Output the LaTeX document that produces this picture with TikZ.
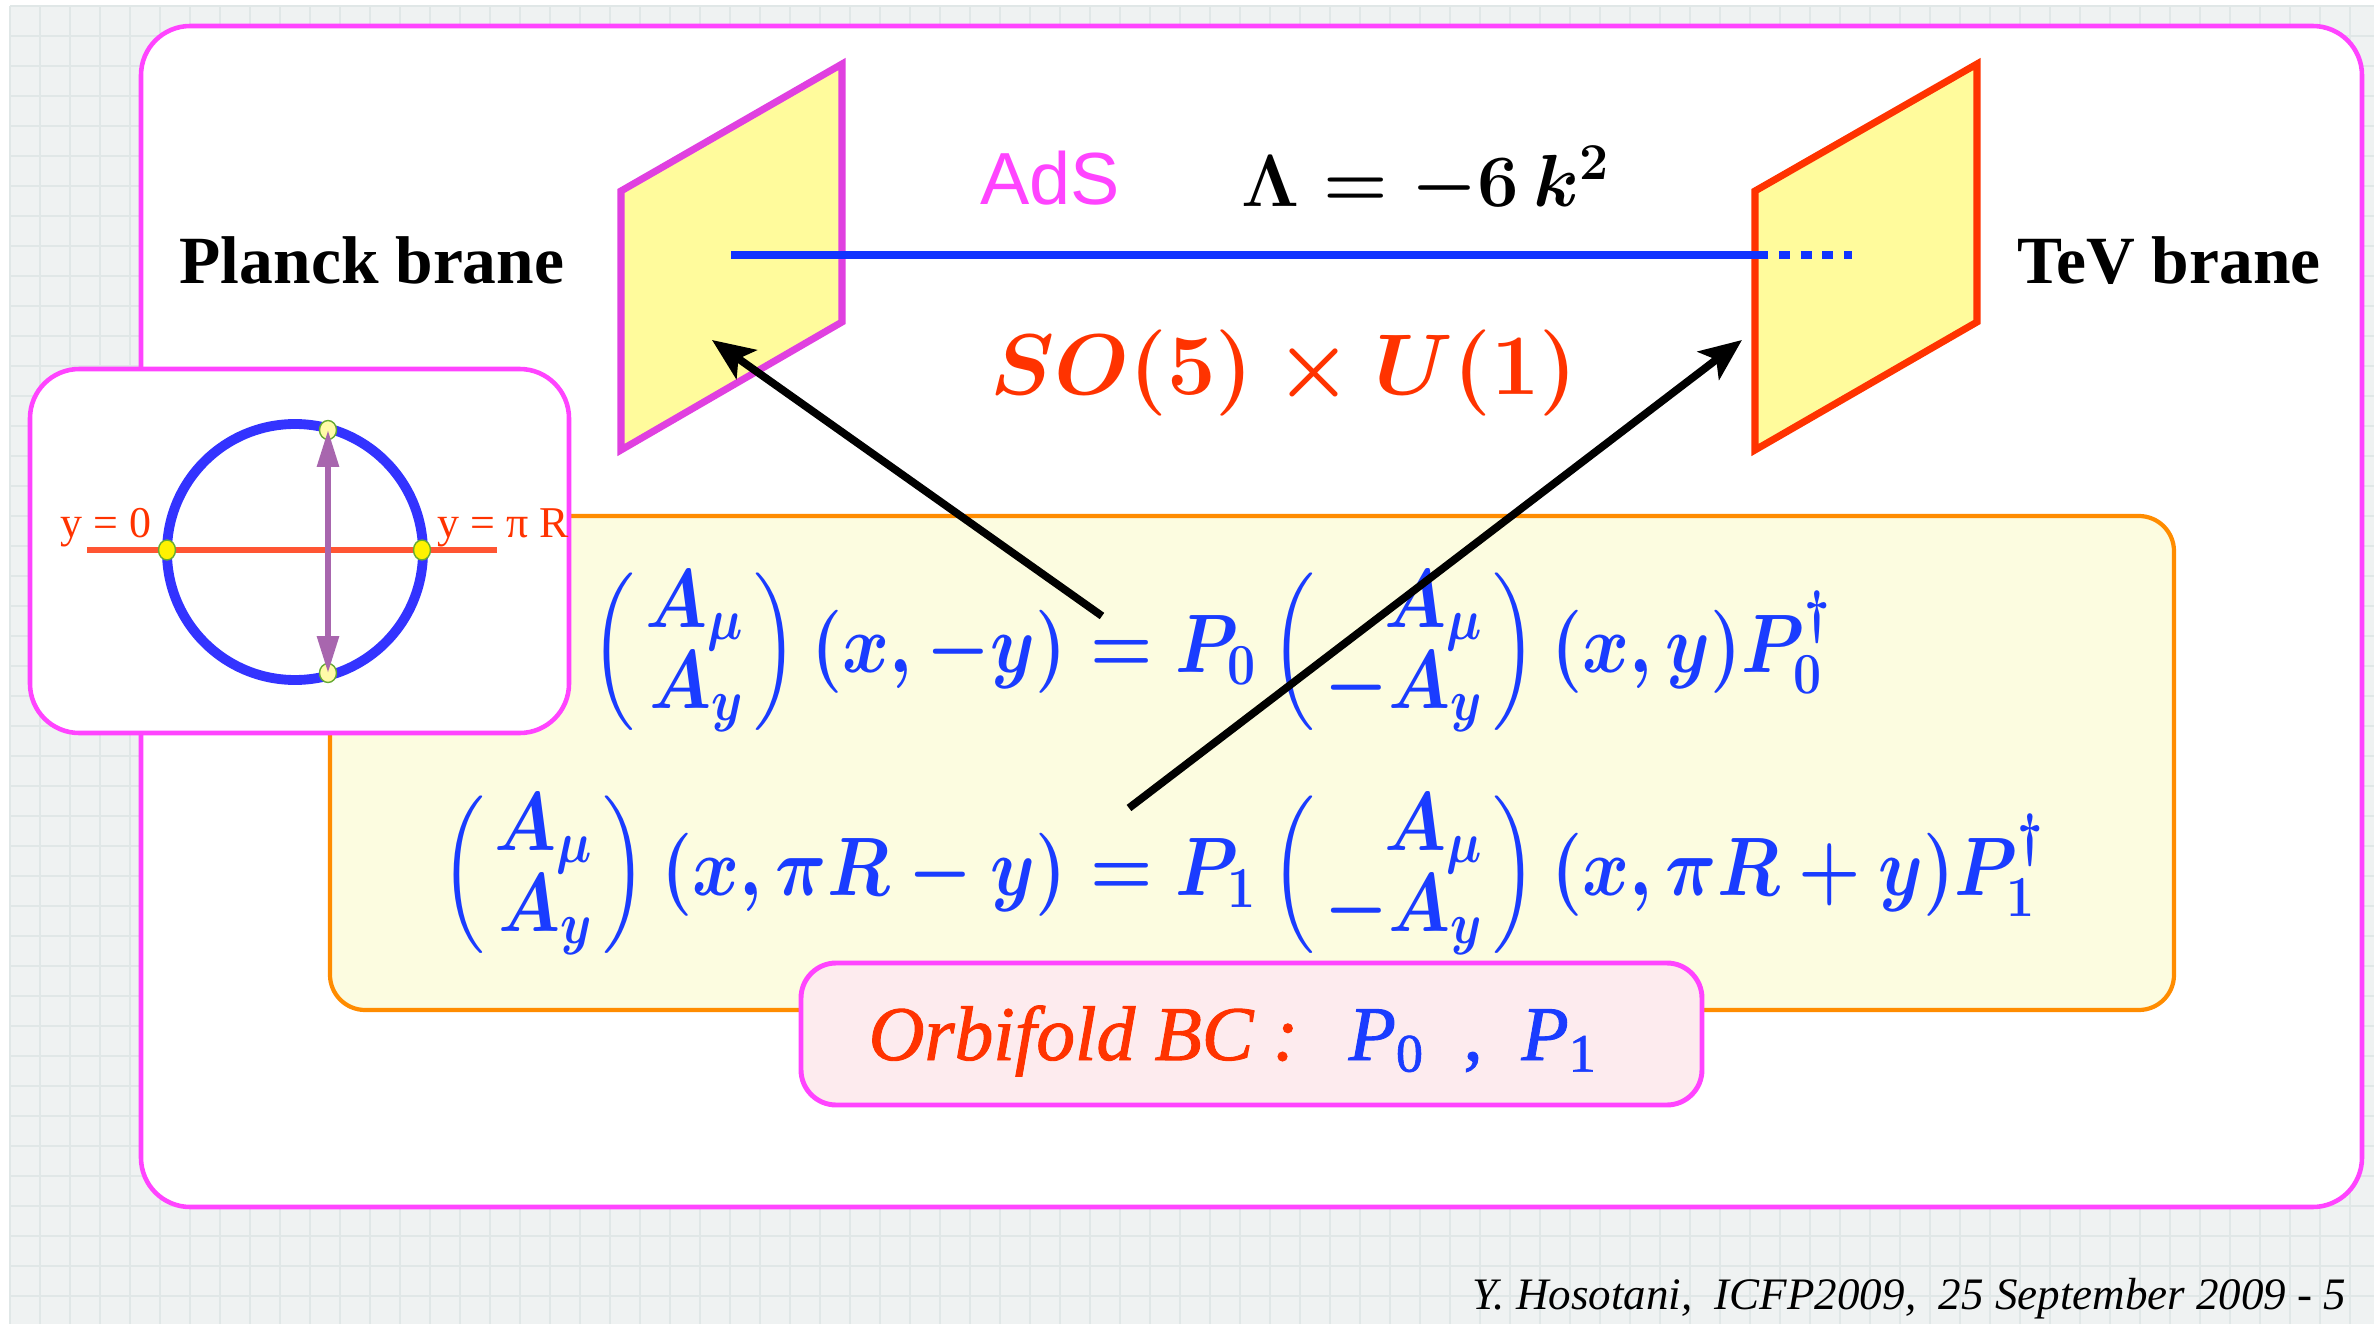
\RequirePackage{fix-cm}
\documentclass[tikz,border=0pt]{standalone}
\usepackage{amsmath}
\usepackage{graphicx}
\usepackage[no-math]{fontspec}
\setmainfont{Liberation Serif}
\newfontfamily\sansf{Liberation Sans}
\newfontfamily\obcfont[FakeBold=1.2]{Liberation Serif}
\usetikzlibrary{arrows.meta}
\definecolor{bggrey}{HTML}{EFF2F2}
\definecolor{gridc}{HTML}{E0E7E7}
\definecolor{mag}{HTML}{FF44FF}
\definecolor{branemag}{HTML}{E040E0}
\definecolor{branefill}{HTML}{FFFB9C}
\definecolor{tevred}{HTML}{FF3300}
\definecolor{lineblue}{HTML}{1133FF}
\definecolor{eqblue}{HTML}{1A3CFF}
\definecolor{orng}{HTML}{FF8C00}
\definecolor{eqfill}{HTML}{FCFCE0}
\definecolor{pinkfill}{HTML}{FDEBEE}
\definecolor{redtxt}{HTML}{FF3300}
\definecolor{insetred}{HTML}{FF5533}
\definecolor{circblue}{HTML}{3333FF}
\definecolor{purp}{HTML}{A866AE}
\definecolor{dotgreen}{HTML}{66AA33}
\definecolor{paleyellow}{HTML}{FFFBA8}
\newcommand{\myvec}[2]{\left(\renewcommand{\arraystretch}{0.82}\begin{array}{@{\mkern2mu}r@{\mkern2mu}}#1\\ #2\end{array}\right)}
\newcommand{\eqsq}[1]{\scalebox{0.86}[1]{$#1$}}
\tikzset{
  gridl/.style={draw=gridc, line width=0.3pt},
  boxmag/.style={draw=mag, line width=1.3pt, fill=white, rounded corners=14pt},
  branebox/.style={line width=2pt, fill=branefill, line join=miter},
  bigarrow/.style={draw=black, line width=2.2pt, -{Stealth[length=12pt,width=10pt,inset=2.8pt]}},
  brlabel/.style={inner sep=0pt, anchor=base, font=\fontsize{19.2}{23}\selectfont\bfseries},
  eqtxt/.style={inner sep=0pt, text=eqblue, font=\fontsize{23.6}{28}\selectfont\boldmath},
  inlabel/.style={inner sep=0pt, anchor=base, text=redtxt, font=\fontsize{12.5}{15}\selectfont},
  ydot/.style={draw=dotgreen, line width=0.4pt, fill=yellow},
  pdot/.style={draw=dotgreen, line width=0.4pt, fill=paleyellow},
}
\begin{document}
\begin{tikzpicture}[x=0.01cm, y=-0.01cm]
\useasboundingbox (0,0) rectangle (2374,1324);
% background
\fill[white] (0,0) rectangle (2374,1324);
\fill[bggrey] (10,6) rectangle (2374,1324);
\foreach \gx in {10,40,...,2374} \draw[gridl] (\gx,6) -- (\gx,1324);
\foreach \gy in {6,36,...,1324} \draw[gridl] (10,\gy) -- (2374,\gy);
% outer box
\draw[boxmag] (141,26) rectangle (2362,1207);
% equation box
\draw[draw=orng, fill=eqfill, line width=1.2pt, rounded corners=10pt] (330,516) rectangle (2174,1010);
% inset box
\draw[boxmag] (30,369) rectangle (569,733);
% branes
\coordinate (pa) at (621,191); \coordinate (pb) at (842,64);
\coordinate (pc) at (842,322); \coordinate (pd) at (621,450);
\draw[branebox, draw=branemag] (pa) -- (pb) -- (pc) -- (pd) -- cycle;
\coordinate (ta) at (1755,191); \coordinate (tb) at (1977,64);
\coordinate (tc) at (1977,322); \coordinate (td) at (1755,450);
\draw[branebox, draw=tevred] (ta) -- (tb) -- (tc) -- (td) -- cycle;
% bulk line
\coordinate (bl0) at (731,255); \coordinate (bl1) at (1757,255); \coordinate (bl2) at (1852,255);
\draw[lineblue, line width=2.1pt] (bl0) -- (bl1);
\draw[lineblue, line width=2.1pt, dash pattern=on 3.1pt off 3.1pt] (bl1) -- (bl2);
% top labels
\node[brlabel] (planck) at (372,283) {Planck brane};
\node[brlabel] (tev) at (2169,283) {TeV brane};
\node[inner sep=0pt, anchor=base, text=mag, font=\sansf\fontsize{21}{25}\selectfont] (ads) at (1050,204) {AdS};
\node[inner sep=0pt, anchor=base, font=\fontsize{21}{25}\selectfont\boldmath] (lam) at (1426,206) {$\Lambda = -6\,k^2$};
\node[inner sep=0pt, anchor=base, text=redtxt, font=\fontsize{24.5}{29}\selectfont\boldmath] (grp) at (1284,394) {$SO(5)\times U(1)$};
% equations
\node[eqtxt, anchor=base east] (l1) at (1067,672) {\eqsq{\myvec{A_\mu}{A_y}(x,-y)}};
\node[eqtxt, anchor=base west] (r1) at (1067,672) {\eqsq{{}=P_0\myvec{A_\mu}{-A_y}(x,y)P_0^\dagger}};
\node[eqtxt, anchor=base east] (l2) at (1067,895) {\eqsq{\myvec{A_\mu}{A_y}(x,\pi R-y)}};
\node[eqtxt, anchor=base west] (r2) at (1067,895) {\eqsq{{}=P_1\myvec{A_\mu}{-A_y}(x,\pi R+y)P_1^\dagger}};
% orbifold box
\draw[draw=mag, fill=pinkfill, line width=1.4pt, rounded corners=10pt] (801,963) rectangle (1702,1105);
\node[inner sep=0pt, anchor=base west, text=redtxt, font=\obcfont\fontsize{22}{26}\selectfont\itshape] (obc) at (868,1060) {Orbifold BC :};
\node[inner sep=0pt, anchor=base west, text=eqblue, font=\obcfont\fontsize{22}{26}\selectfont] (pp) at (1348,1060) {\textit{P}\textsubscript{0}\enspace,\enspace\textit{P}\textsubscript{1}};
% inset drawing
\coordinate (cc) at (295,552);
\draw[circblue, line width=2.8pt] (cc) circle[radius=128];
\coordinate (rl0) at (87,550); \coordinate (rl1) at (497,550);
\draw[insetred, line width=1.9pt] (rl0) -- (rl1);
\coordinate (dl) at (167,550); \coordinate (dr) at (422,550);
\draw[ydot] (dl) ellipse[x radius=8.5, y radius=10];
\draw[ydot] (dr) ellipse[x radius=8.5, y radius=10];
\coordinate (dt) at (328,430); \coordinate (db) at (328,673);
\draw[pdot] (dt) ellipse[x radius=8.5, y radius=9.5];
\draw[pdot] (db) ellipse[x radius=8.5, y radius=9.5];
\draw[purp, line width=1.6pt, {Triangle[length=10.5pt,width=6pt]}-{Triangle[length=10.5pt,width=6pt]}] (dt) -- (db);
\node[inlabel] (lab0) at (106,537) {y = 0};
\node[inlabel] (labpi) at (503,537) {y = π R};
% arrows
\coordinate (a1s) at (1102,616); \coordinate (a1e) at (712,340);
\coordinate (a2s) at (1129,808); \coordinate (a2e) at (1742,340);
\draw[bigarrow] (a1s) -- (a1e);
\draw[bigarrow] (a2s) -- (a2e);
% footer
\node[inner sep=0pt, anchor=base east, font=\fontsize{12.8}{15}\selectfont\itshape] (foot) at (2347,1309) {Y. Hosotani,\ \ ICFP2009,\ \ 25 September 2009 - 5};
\end{tikzpicture}
\end{document}
